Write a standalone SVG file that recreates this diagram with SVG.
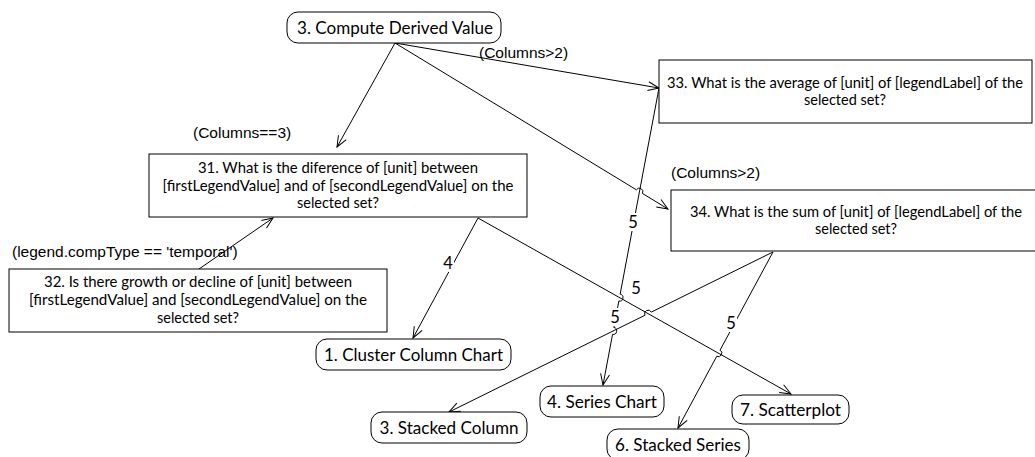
<svg xmlns="http://www.w3.org/2000/svg" width="1035" height="457" viewBox="0 0 1035 457">
<style>
.box{fill:#fff;stroke:#000;stroke-width:1}
.node{fill:#fff;stroke:#000;stroke-width:1}
.bt{font-family:Lato,"Open Sans",sans-serif;font-size:15px;fill:#000;text-anchor:middle}
.nt{font-family:Lato,"Open Sans",sans-serif;font-size:17px;fill:#000;text-anchor:middle}
.lab{font-family:"Liberation Sans",Arial,sans-serif;font-size:15.5px;fill:#000}
.el{font-family:Lato,"Open Sans",sans-serif;font-size:16.5px;fill:#000;text-anchor:middle}
.edge{fill:none;stroke:#000;stroke-width:1;marker-end:url(#arr)}
.bg{fill:#fff;stroke:none}
</style>
<defs>
<marker id="arr" viewBox="-12 -6 13 12" refX="0" refY="0" markerWidth="13" markerHeight="12" markerUnits="userSpaceOnUse" orient="auto">
<path d="M-11,-4.5 L0,0 L-11,4.5" fill="none" stroke="#000" stroke-width="1"/>
</marker>
</defs>
<rect width="1035" height="457" fill="#fff"/>

<g id="connectors">
<path class="edge" d="M395,43 L337,147"/>
<path class="edge" d="M395,43 L659,88"/>
<path class="edge" d="M395,43 L636.4,189.8 A3.5,3.5 0 0 1 642.4,193.4 L668,209"/>
<path class="edge" d="M659,88 L620.15,294.16 A3.5,3.5 0 0 1 618.85,301.04 L613.85,327.46 A3.5,3.5 0 0 1 612.55,334.34 L603,385"/>
<path class="edge" d="M199,269 L273,218"/>
<path class="edge" d="M478,218 L791,394"/>
<path class="edge" d="M773,252 L651.24,312.15 A3.5,3.5 0 0 0 644.96,315.25 L449,412"/>
<path class="edge" d="M773,252 L720.06,350.12 A3.5,3.5 0 0 1 716.74,356.28 L678,428"/>
<path class="edge" d="M478,218 L413,338"/>
<rect class="bg" x="442" y="254" width="12" height="18"/>
<text class="el" x="448" y="269">4</text>
<rect class="bg" x="627" y="213" width="12" height="18"/>
<text class="el" x="633" y="228">5</text>
<text class="el" x="636" y="294">5</text>
<rect class="bg" x="609" y="308" width="12" height="18"/>
<text class="el" x="615" y="323">5</text>
<rect class="bg" x="725" y="314" width="12" height="18"/>
<text class="el" x="731" y="329">5</text>
<text class="lab" x="479" y="58">(Columns&gt;2)</text>
<text class="lab" x="671" y="178">(Columns&gt;2)</text>
<text class="lab" x="193" y="138">(Columns==3)</text>
<text class="lab" x="12" y="257">(legend.compType == 'temporal')</text>
</g>

<g id="n-compute">
<rect class="node" x="287" y="12" width="214" height="31" rx="11"/>
<text class="nt" x="395" y="34" textLength="196" lengthAdjust="spacingAndGlyphs">3. Compute Derived Value</text>
</g>

<g id="n-31">
<rect class="box" x="149" y="154" width="378" height="63"/>
<text class="bt" x="338" y="173" textLength="280" lengthAdjust="spacingAndGlyphs">31. What is the diference of [unit] between</text>
<text class="bt" x="338" y="191" textLength="351" lengthAdjust="spacingAndGlyphs">[firstLegendValue] and of [secondLegendValue] on the</text>
<text class="bt" x="338" y="208" textLength="82" lengthAdjust="spacingAndGlyphs">selected set?</text>
</g>

<g id="n-32">
<rect class="box" x="9" y="269" width="378" height="63"/>
<text class="bt" x="198" y="287" textLength="308" lengthAdjust="spacingAndGlyphs">32. Is there growth or decline of [unit] between</text>
<text class="bt" x="198" y="305" textLength="338" lengthAdjust="spacingAndGlyphs">[firstLegendValue] and [secondLegendValue] on the</text>
<text class="bt" x="198" y="323" textLength="82" lengthAdjust="spacingAndGlyphs">selected set?</text>
</g>

<g id="n-33">
<rect class="box" x="659" y="60" width="373" height="63"/>
<text class="bt" x="845" y="88" textLength="356" lengthAdjust="spacingAndGlyphs">33. What is the average of [unit] of [legendLabel] of the</text>
<text class="bt" x="845" y="105" textLength="82" lengthAdjust="spacingAndGlyphs">selected set?</text>
</g>

<g id="n-34">
<rect class="box" x="671" y="190" width="372" height="61"/>
<text class="bt" x="856" y="217" textLength="332" lengthAdjust="spacingAndGlyphs">34. What is the sum of [unit] of [legendLabel] of the</text>
<text class="bt" x="856" y="234" textLength="82" lengthAdjust="spacingAndGlyphs">selected set?</text>
</g>

<g id="n-cluster">
<rect class="node" x="316" y="339" width="195" height="31" rx="11"/>
<text class="nt" x="413.5" y="361" textLength="179" lengthAdjust="spacingAndGlyphs">1. Cluster Column Chart</text>
</g>

<g id="n-series">
<rect class="node" x="540" y="386" width="124" height="31" rx="11"/>
<text class="nt" x="602" y="408" textLength="110" lengthAdjust="spacingAndGlyphs">4. Series Chart</text>
</g>

<g id="n-stackedcol">
<rect class="node" x="371" y="412" width="156" height="31" rx="11"/>
<text class="nt" x="449" y="434" textLength="139" lengthAdjust="spacingAndGlyphs">3. Stacked Column</text>
</g>

<g id="n-stackedser">
<rect class="node" x="607" y="429" width="142" height="31" rx="11"/>
<text class="nt" x="678" y="451" textLength="126" lengthAdjust="spacingAndGlyphs">6. Stacked Series</text>
</g>

<g id="n-scatter">
<rect class="node" x="732" y="395" width="117" height="29" rx="11"/>
<text class="nt" x="790.5" y="416" textLength="101" lengthAdjust="spacingAndGlyphs">7. Scatterplot</text>
</g>
</svg>
